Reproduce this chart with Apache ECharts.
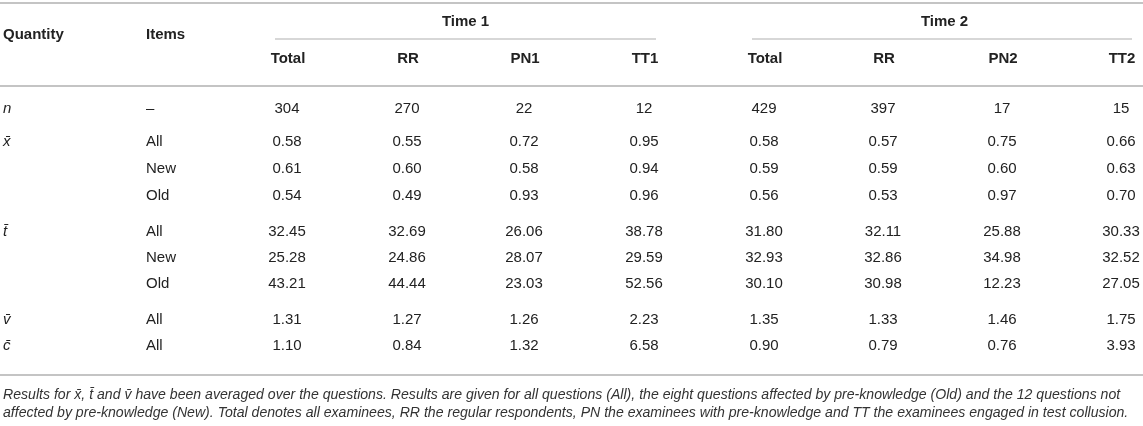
<!DOCTYPE html>
<html>
<head>
<meta charset="utf-8">
<title>Table</title>
<script src="https://cdn.jsdelivr.net/npm/echarts@6/dist/echarts.min.js"></script>
<style>
  html, body { margin: 0; padding: 0; background: #fff; }
  #main { width: 1143px; height: 426px; }
</style>
</head>
<body>
<div id="main"></div>
<script>
  // table content
  var groupTitles = ['Time 1', 'Time 2'];
  var time1Heads = ['Total', 'RR', 'PN1', 'TT1'];
  var time2Heads = ['Total', 'RR', 'PN2', 'TT2'];
  var quantities = ['n', 'x\u0304', 't\u0304', 'v\u0304', 'c\u0304'];
  var itemsPerQuantity = [['–'], ['All', 'New', 'Old'], ['All', 'New', 'Old'], ['All'], ['All']];

  var nValues = [304, 270, 22, 12, 429, 397, 17, 15];
  var xbarAll = [0.58, 0.55, 0.72, 0.95, 0.58, 0.57, 0.75, 0.66];
  var xbarNew = [0.61, 0.60, 0.58, 0.94, 0.59, 0.59, 0.60, 0.63];
  var xbarOld = [0.54, 0.49, 0.93, 0.96, 0.56, 0.53, 0.97, 0.70];
  var tbarAll = [32.45, 32.69, 26.06, 38.78, 31.80, 32.11, 25.88, 30.33];
  var tbarNew = [25.28, 24.86, 28.07, 29.59, 32.93, 32.86, 34.98, 32.52];
  var tbarOld = [43.21, 44.44, 23.03, 52.56, 30.10, 30.98, 12.23, 27.05];
  var vbarAll = [1.31, 1.27, 1.26, 2.23, 1.35, 1.33, 1.46, 1.75];
  var cbarAll = [1.10, 0.84, 1.32, 6.58, 0.90, 0.79, 0.76, 3.93];

  var footnote = [
    'Results for x\u0304, t\u0304 and v\u0304 have been averaged over the questions. Results are given for all questions (All), the eight questions affected by pre-knowledge (Old) and the 12 questions not',
    'affected by pre-knowledge (New). Total denotes all examinees, RR the regular respondents, PN the examinees with pre-knowledge and TT the examinees engaged in test collusion.'
  ];

  var rows = [nValues, xbarAll, xbarNew, xbarOld, tbarAll, tbarNew, tbarOld, vbarAll, cbarAll];

  // layout (pixels on the page)
  var colX = [287, 407, 524, 644, 764, 883, 1002, 1121];
  var rowY = [109, 142, 169, 196, 232, 258, 284, 320, 346];
  var quantityX = 3, itemsX = 146;

  var FONT = '"Liberation Sans", Arial, Helvetica, sans-serif';
  var INK = '#222';
  var RULE = '#b0b0b0';

  var cells = [];   // {x, y, text, font, align, color}
  function addCell(x, y, text, font, align, color) {
    cells.push({ x: x, y: y, text: text, font: font, align: align || 'center', color: color || INK });
  }
  var bold = 'bold 15px ' + FONT;
  var normal = '15px ' + FONT;
  var italic = 'italic 15px ' + FONT;
  var small = 'italic 14.1px ' + FONT;

  // header
  addCell(quantityX, 35, 'Quantity', bold, 'left');
  addCell(itemsX, 35, 'Items', bold, 'left');
  addCell((colX[0] + colX[3]) / 2, 22, groupTitles[0], bold);
  addCell((colX[4] + colX[7]) / 2 + 2, 22, groupTitles[1], bold);
  time1Heads.concat(time2Heads).forEach(function (h, i) {
    addCell(colX[i] + 1, 59, h, bold);
  });

  // body
  var r = 0;
  quantities.forEach(function (q, qi) {
    addCell(quantityX, rowY[r], q, italic, 'left');
    itemsPerQuantity[qi].forEach(function (it) {
      addCell(itemsX, rowY[r], it, normal, 'left');
      rows[r].forEach(function (v, c) {
        addCell(colX[c], rowY[r], r === 0 ? String(v) : v.toFixed(2), normal);
      });
      r++;
    });
  });

  // notes
  addCell(quantityX, 395, footnote[0], small, 'left', '#333');
  addCell(quantityX, 413, footnote[1], small, 'left', '#333');

  // rules: [x1, x2, y, width]
  var rules = [
    [0, 1143, 3, 1.6],
    [275, 656, 39, 1.2],
    [752, 1132, 39, 1.2],
    [0, 1143, 86, 1.6],
    [0, 1143, 375, 1.6]
  ];

  var chart = echarts.init(document.getElementById('main'));
  chart.setOption({
    animation: false,
    grid: { left: 0, right: 0, top: 0, bottom: 0 },
    xAxis: { type: 'value', min: 0, max: 1143, show: false },
    yAxis: { type: 'value', min: 0, max: 426, inverse: true, show: false },
    series: [
      {
        type: 'custom',
        silent: true,
        clip: false,
        data: rules.map(function (l) { return [l[0], l[2], l[1], l[3]]; }),
        renderItem: function (params, api) {
          var a = api.coord([api.value(0), api.value(1)]);
          var b = api.coord([api.value(2), api.value(1)]);
          return {
            type: 'line',
            shape: { x1: a[0], y1: a[1], x2: b[0], y2: b[1] },
            style: { stroke: RULE, lineWidth: api.value(3) }
          };
        }
      },
      {
        type: 'custom',
        silent: true,
        clip: false,
        data: cells.map(function (c) { return [c.x, c.y]; }),
        renderItem: function (params, api) {
          var c = cells[params.dataIndex];
          var p = api.coord([api.value(0), api.value(1)]);
          return {
            type: 'text',
            x: p[0],
            y: p[1],
            style: {
              text: c.text,
              font: c.font,
              fill: c.color,
              align: c.align,
              verticalAlign: 'middle'
            }
          };
        }
      }
    ]
  });
</script>
</body>
</html>
